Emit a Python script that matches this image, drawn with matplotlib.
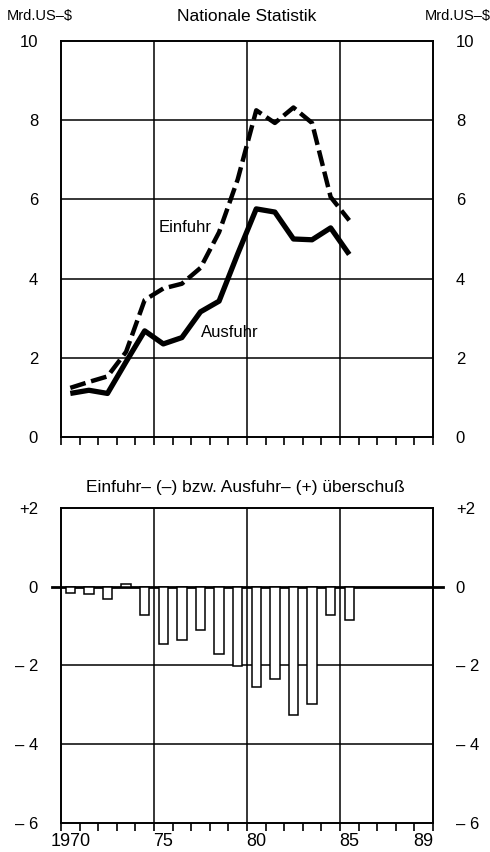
import matplotlib
matplotlib.use("Agg")
import matplotlib.pyplot as plt

plt.rcParams['font.family'] = ['Liberation Sans', 'DejaVu Sans']

# ---- data ----
years = list(range(1970, 1986))
ausfuhr = [1.10, 1.18, 1.10, 1.90, 2.68, 2.35, 2.51, 3.16, 3.43, 4.62,
           5.76, 5.68, 5.00, 4.98, 5.28, 4.61]
einfuhr = [1.24, 1.39, 1.53, 2.15, 3.46, 3.75, 3.87, 4.27, 5.17, 6.50,
           8.25, 7.93, 8.32, 7.93, 6.06, 5.47]
saldo = [-0.15, -0.18, -0.30, 0.08, -0.72, -1.45, -1.36, -1.09, -1.72, -2.02,
         -2.54, -2.35, -3.26, -2.99, -0.73, -0.85]

xlabel_pos = [1970, 1975, 1980, 1985, 1989]
xlabel_txt = ['1970', '75', '80', '85', '89']
top_yticks = [0, 2, 4, 6, 8, 10]
top_ylabels = ['0', '2', '4', '6', '8', '10']
bot_yticks = [-6, -4, -2, 0, 2]
bot_ylabels = ['– 6', '– 4', '– 2', '0', '+2']
vgrid = [1974.5, 1979.5, 1984.5]

fig = plt.figure(figsize=(4.9, 8.52), dpi=100)
ax1 = fig.add_axes([0.1245, 0.4871, 0.759, 0.4648])
ax2 = fig.add_axes([0.1245, 0.034, 0.759, 0.3698])

boundaries = [1969.5 + k for k in range(21)]
for ax in (ax1, ax2):
    ax.set_xlim(1969.5, 1989.5)
    ax.set_xticks(boundaries, minor=True)
    ax.set_xticks(xlabel_pos)
    ax.tick_params(axis='x', which='minor', direction='out', length=6,
                   width=1.2, bottom=True, top=False)
    ax.tick_params(axis='x', which='major', length=0, pad=7, labelsize=13)
    ax.tick_params(axis='y', left=False, right=False, labelleft=True,
                   labelright=True, labelsize=12, pad=13)
    for s in ax.spines.values():
        s.set_linewidth(1.4)
    for xv in vgrid:
        ax.axvline(xv, color='black', lw=1.1, zorder=1)

# top panel
ax1.set_ylim(0, 10)
ax1.set_yticks(top_yticks)
ax1.set_yticklabels(top_ylabels)
ax1.set_xticklabels([])
for yv in top_yticks[1:-1]:
    ax1.axhline(yv, color='black', lw=1.1, zorder=1)
ax1.plot(years, ausfuhr, color='black', lw=3.8, solid_joinstyle='round',
         solid_capstyle='butt', zorder=4)
ax1.plot(years, einfuhr, color='black', lw=3.2, dashes=(3.6, 1.3),
         dash_capstyle='butt', zorder=4)
ax1.text(1976.2, 5.29, 'Einfuhr', ha='center', va='center', fontsize=12)
ax1.text(1978.6, 2.63, 'Ausfuhr', ha='center', va='center', fontsize=12)

# bottom panel
ax2.set_ylim(-6, 2)
ax2.set_yticks(bot_yticks)
ax2.set_yticklabels(bot_ylabels)
ax2.set_xticklabels(xlabel_txt)
for yv in [-4, -2]:
    ax2.axhline(yv, color='black', lw=1.1, zorder=1)
ax2.plot([-0.025, 1.027], [0, 0], transform=ax2.get_yaxis_transform(),
         color='black', lw=2.0, clip_on=False, zorder=2)
ax2.bar(years, saldo, width=0.5, color='white', edgecolor='black',
        linewidth=1.1, zorder=3)

# titles
fig.text(0.504, 0.981, 'Nationale Statistik', ha='center', va='center', fontsize=12.5)
fig.text(0.081, 0.981, 'Mrd.US–$', ha='center', va='center', fontsize=10.5)
fig.text(0.934, 0.981, 'Mrd.US–$', ha='center', va='center', fontsize=10.5)
fig.text(0.50, 0.4284, 'Einfuhr– (–) bzw. Ausfuhr– (+) überschuß',
         ha='center', va='center', fontsize=12.5)

fig.savefig('out.png', dpi=100)
